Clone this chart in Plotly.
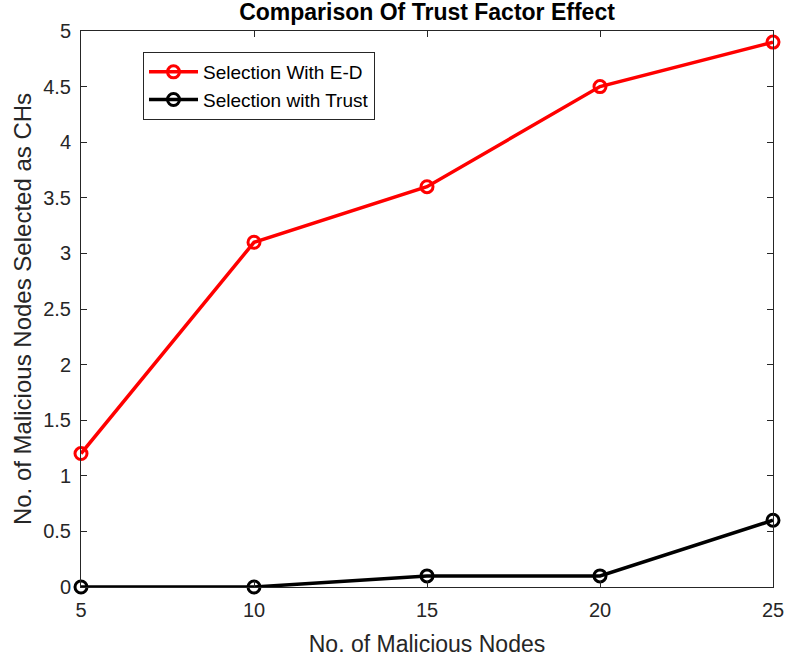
import plotly.graph_objects as go

malicious_nodes = [5, 10, 15, 20, 25]
selection_ed = [1.2, 3.1, 3.6, 4.5, 4.9]
selection_trust = [0, 0, 0.1, 0.1, 0.6]
y_ticks = [0, 0.5, 1, 1.5, 2, 2.5, 3, 3.5, 4, 4.5, 5]
y_tick_labels = ["0", "0.5", "1", "1.5", "2", "2.5", "3", "3.5", "4", "4.5", "5"]

FONT = "Liberation Sans, Arial, sans-serif"
AXIS_COLOR = "#262626"

fig = go.Figure()
fig.add_trace(go.Scatter(
    x=malicious_nodes, y=selection_ed, name="Selection With E-D",
    mode="lines+markers",
    line=dict(color="#ff0000", width=3.5),
    marker=dict(symbol="circle-open", size=12, color="#ff0000", line=dict(width=3)),
    cliponaxis=False,
))
fig.add_trace(go.Scatter(
    x=malicious_nodes, y=selection_trust, name="Selection with Trust",
    mode="lines+markers",
    line=dict(color="#000000", width=3.5),
    marker=dict(symbol="circle-open", size=12, color="#000000", line=dict(width=3)),
    cliponaxis=False,
))

axis_common = dict(
    showline=True, linecolor=AXIS_COLOR, linewidth=1, mirror="allticks",
    ticks="inside", ticklen=6, tickwidth=1, tickcolor=AXIS_COLOR,
    showgrid=False, zeroline=False,
    tickfont=dict(family=FONT, size=20, color=AXIS_COLOR),
)

fig.update_layout(
    width=785, height=664,
    margin=dict(l=81, r=12, t=31, b=77),
    paper_bgcolor="white", plot_bgcolor="white",
    title=dict(text="<b>Comparison Of Trust Factor Effect</b>",
               font=dict(family=FONT, size=23, color="#000000"),
               x=427 / 785, xanchor="center", y=1 - 12 / 664, yanchor="middle"),
    xaxis=dict(range=[5, 25], tickvals=malicious_nodes, ticklabelstandoff=5,
               automargin=False,
               title=dict(text="No. of Malicious Nodes",
                          font=dict(family=FONT, size=23, color=AXIS_COLOR)),
               **axis_common),
    yaxis=dict(range=[0, 5], tickvals=y_ticks, ticktext=y_tick_labels, ticklabelstandoff=5,
               automargin=True,
               title=dict(text="No. of Malicious Nodes Selected as CHs", standoff=4,
                          font=dict(family=FONT, size=24, color=AXIS_COLOR)),
               **axis_common),
    legend=dict(x=(143 - 81) / 692, y=(587 - 52) / 556, xanchor="left", yanchor="top",
                bgcolor="white", bordercolor=AXIS_COLOR, borderwidth=1,
                font=dict(family=FONT, size=19, color="#000000"),
                tracegroupgap=0, itemwidth=49),
    showlegend=True,
)

fig.write_html("out.html")
